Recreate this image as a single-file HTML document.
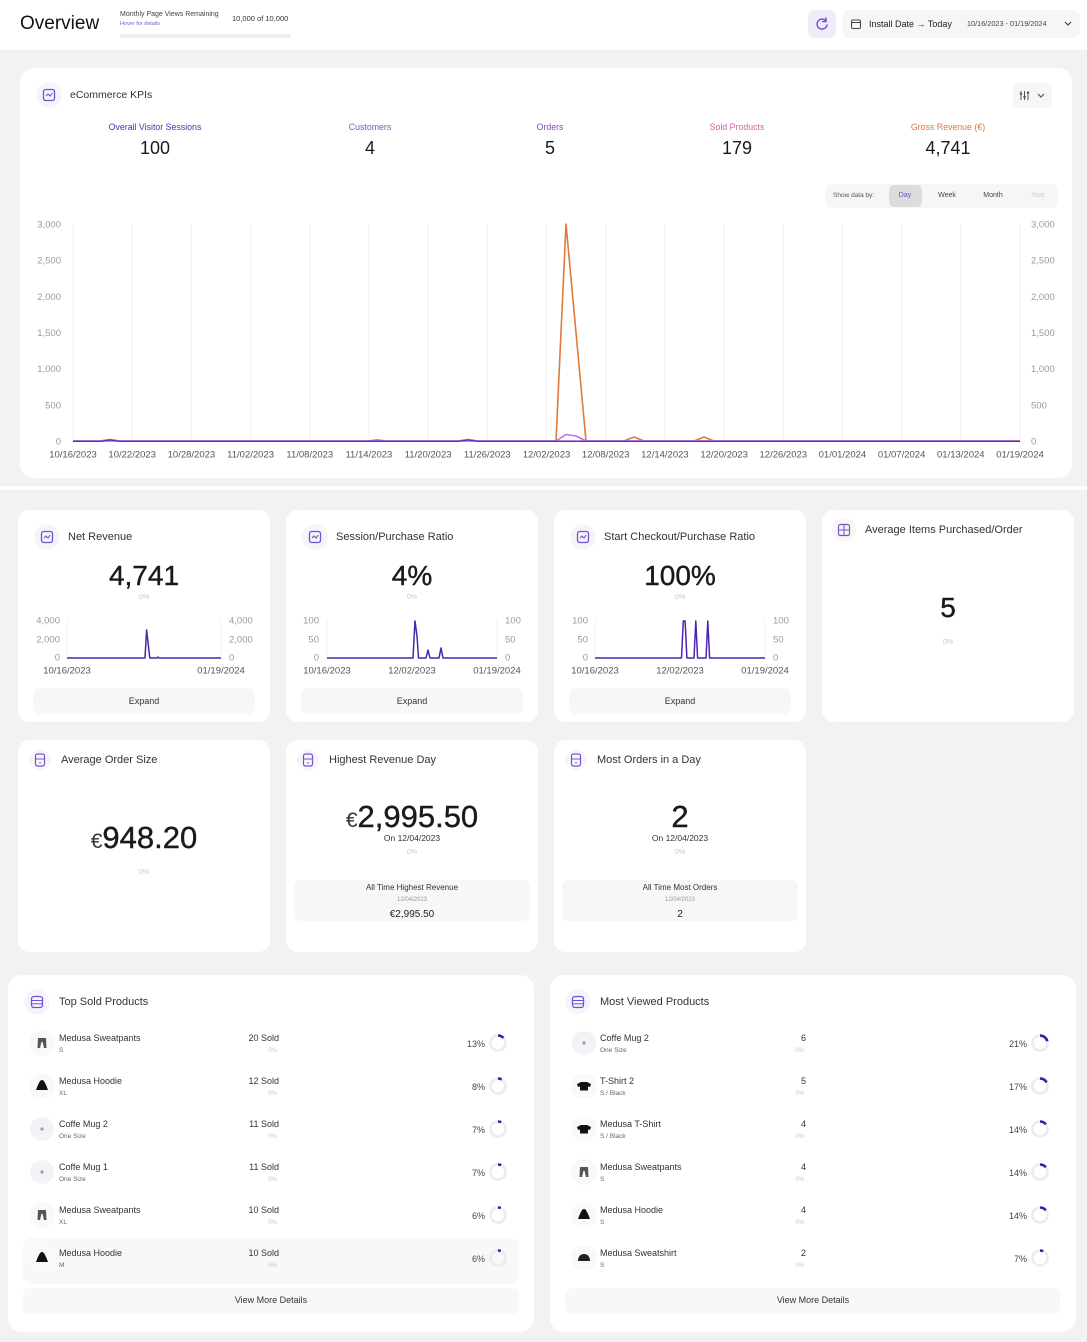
<!DOCTYPE html>
<html>
<head>
<meta charset="utf-8">
<style>
  html,body{margin:0;padding:0;}
  body{width:1087px;height:1342px;position:relative;overflow:hidden;background:#f2f2f2;font-family:"Liberation Sans",Arial,sans-serif;color:#222;}
  .abs{position:absolute;}
  .t{position:absolute;height:20px;line-height:20px;white-space:nowrap;}
  .c{text-align:center;width:240px;}
  .r{text-align:right;width:240px;}
  .card{position:absolute;background:#fff;border-radius:14px;}
  .btn{position:absolute;background:#f7f7f7;border-radius:7px;}
  .big{-webkit-text-stroke:0.4px #1a1a1a;color:#1a1a1a;}
  .muted{color:#c9c9c9;}
</style>
</head>
<body>

<!-- Header -->
<div class="abs" style="left:0;top:0;width:1087px;height:50px;background:#fff;"></div>
<div class="t" style="left:20px;top:14px;font-size:19px;color:#111;">Overview</div>
<div class="t" style="left:120px;top:5px;font-size:7px;color:#444;">Monthly Page Views Remaining</div>
<div class="t" style="left:120px;top:14px;font-size:5.5px;color:#7a5cd0;">Hover for details</div>
<div class="t" style="left:232px;top:9px;font-size:7.5px;color:#333;">10,000 of 10,000</div>
<div class="abs" style="left:120px;top:34px;width:171px;height:4px;background:#ededed;border-radius:2px;"></div>

<div class="abs" style="left:808px;top:10px;width:28px;height:28px;background:#efebfa;border-radius:7px;"></div>
<svg class="abs" style="left:808px;top:10px;" width="28" height="28" viewBox="0 0 28 28"><path d="M18 11 A5 5 0 1 0 19 15" fill="none" stroke="#6b4fd0" stroke-width="1.4" stroke-linecap="round"/><path d="M18 8 L18 11.5 L14.8 11.5" fill="none" stroke="#6b4fd0" stroke-width="1.4" stroke-linecap="round"/></svg>

<div class="abs" style="left:842px;top:10px;width:238px;height:28px;background:#f6f6f6;border-radius:7px;"></div>
<svg class="abs" style="left:850px;top:18px;" width="12" height="12" viewBox="0 0 12 12"><rect x="1.5" y="2" width="9" height="8.5" rx="1.5" fill="none" stroke="#444" stroke-width="1"/><line x1="1.5" y1="4.5" x2="10.5" y2="4.5" stroke="#444" stroke-width="1"/></svg>
<div class="t" style="left:869px;top:14px;font-size:9px;color:#222;">Install Date → Today</div>
<div class="t" style="left:967px;top:14px;font-size:7.3px;color:#444;">10/16/2023 - 01/19/2024</div>
<svg class="abs" style="left:1063px;top:20px;" width="10" height="8" viewBox="0 0 10 8"><path d="M2 2 L5 5 L8 2" fill="none" stroke="#444" stroke-width="1.2"/></svg>

<!-- separator band -->
<div class="abs" style="left:0;top:486px;width:1087px;height:4px;background:#fff;"></div>

<!-- KPI card -->
<div class="card" style="left:20px;top:68px;width:1052px;height:410px;"></div>
<div class="t" style="left:70px;top:85px;font-size:10.5px;color:#333;">eCommerce KPIs</div>
<div class="abs" style="left:1013px;top:83px;width:39px;height:25px;background:#f6f6f6;border-radius:6px;"></div>
<svg class="abs" style="left:1013px;top:83px;" width="39" height="25" viewBox="0 0 39 25"><g stroke="#555" stroke-width="1"><line x1="8" y1="8" x2="8" y2="17"/><line x1="11.5" y1="8" x2="11.5" y2="17"/><line x1="15" y1="8" x2="15" y2="17"/></g><g fill="#555"><rect x="6.8" y="10" width="2.4" height="1.6"/><rect x="10.3" y="13" width="2.4" height="1.6"/><rect x="13.8" y="9" width="2.4" height="1.6"/></g><path d="M25 11 L28 14 L31 11" fill="none" stroke="#555" stroke-width="1.2"/></svg>

<div class="t c" style="left:35px;top:117px;font-size:8.8px;color:#4a34b8;">Overall Visitor Sessions</div>
<div class="t c" style="left:250px;top:117px;font-size:8.8px;color:#5269cf;">Customers</div>
<div class="t c" style="left:430px;top:117px;font-size:8.8px;color:#8a3fd0;">Orders</div>
<div class="t c" style="left:617px;top:117px;font-size:8.8px;color:#d35fa6;">Sold Products</div>
<div class="t c" style="left:828px;top:117px;font-size:8.8px;color:#e0783a;">Gross Revenue (€)</div>

<div class="t c" style="left:35px;top:138px;font-size:18px;color:#1a1a1a;">100</div>
<div class="t c" style="left:250px;top:138px;font-size:18px;color:#1a1a1a;">4</div>
<div class="t c" style="left:430px;top:138px;font-size:18px;color:#1a1a1a;">5</div>
<div class="t c" style="left:617px;top:138px;font-size:18px;color:#1a1a1a;">179</div>
<div class="t c" style="left:828px;top:138px;font-size:18px;color:#1a1a1a;">4,741</div>

<div class="abs" style="left:825px;top:184px;width:233px;height:24px;background:#f6f6f6;border-radius:6px;"></div>
<div class="t" style="left:833px;top:186px;font-size:6.5px;color:#555;">Show data by:</div>
<div class="abs" style="left:889px;top:185px;width:33px;height:22px;background:#dcdcdc;border-radius:5px;"></div>
<div class="t c" style="left:785px;top:186px;font-size:7px;color:#6b4fd0;">Day</div>
<div class="t c" style="left:827px;top:186px;font-size:7px;color:#444;">Week</div>
<div class="t c" style="left:873px;top:186px;font-size:7px;color:#444;">Month</div>
<div class="t c" style="left:918px;top:186px;font-size:7px;color:#d0d0d0;">Year</div>

<!-- Row 1 cards -->
<div class="card" style="left:18px;top:510px;width:252px;height:212px;border-radius:12px;"></div>
<div class="card" style="left:286px;top:510px;width:252px;height:212px;border-radius:12px;"></div>
<div class="card" style="left:554px;top:510px;width:252px;height:212px;border-radius:12px;"></div>
<div class="card" style="left:822px;top:510px;width:252px;height:212px;border-radius:12px;"></div>

<div class="t" style="left:68px;top:527px;font-size:11px;color:#333;">Net Revenue</div>
<div class="t" style="left:336px;top:527px;font-size:11px;color:#333;">Session/Purchase Ratio</div>
<div class="t" style="left:604px;top:527px;font-size:11px;color:#333;">Start Checkout/Purchase Ratio</div>
<div class="t" style="left:865px;top:520px;font-size:11px;color:#333;">Average Items Purchased/Order</div>

<div class="t c big" style="left:24px;top:566px;font-size:28px;height:20px;">4,741</div>
<div class="t c big" style="left:292px;top:566px;font-size:28px;">4%</div>
<div class="t c big" style="left:560px;top:566px;font-size:28px;">100%</div>
<div class="t c big" style="left:828px;top:598px;font-size:28px;">5</div>

<div class="t c muted" style="left:24px;top:588px;font-size:7px;">0%</div>
<div class="t c muted" style="left:292px;top:588px;font-size:7px;">0%</div>
<div class="t c muted" style="left:560px;top:588px;font-size:7px;">0%</div>
<div class="t c muted" style="left:828px;top:633px;font-size:7px;">0%</div>

<div class="btn" style="left:33px;top:688px;width:222px;height:26px;"></div>
<div class="btn" style="left:301px;top:688px;width:222px;height:26px;"></div>
<div class="btn" style="left:569px;top:688px;width:222px;height:26px;"></div>
<div class="t c" style="left:24px;top:691px;font-size:9px;color:#333;">Expand</div>
<div class="t c" style="left:292px;top:691px;font-size:9px;color:#333;">Expand</div>
<div class="t c" style="left:560px;top:691px;font-size:9px;color:#333;">Expand</div>

<!-- Row 2 cards -->
<div class="card" style="left:18px;top:740px;width:252px;height:212px;border-radius:12px;"></div>
<div class="card" style="left:286px;top:740px;width:252px;height:212px;border-radius:12px;"></div>
<div class="card" style="left:554px;top:740px;width:252px;height:212px;border-radius:12px;"></div>

<div class="t" style="left:61px;top:750px;font-size:11px;color:#333;">Average Order Size</div>
<div class="t" style="left:329px;top:750px;font-size:11px;color:#333;">Highest Revenue Day</div>
<div class="t" style="left:597px;top:750px;font-size:11px;color:#333;">Most Orders in a Day</div>

<div class="t c" style="left:24px;top:826px;height:24px;line-height:24px;"><span style="font-size:21px;color:#333;">€</span><span class="big" style="font-size:31px;">948.20</span></div>
<div class="t c muted" style="left:24px;top:863px;font-size:7px;">0%</div>

<div class="t c" style="left:292px;top:805px;height:24px;line-height:24px;"><span style="font-size:21px;color:#333;">€</span><span class="big" style="font-size:31px;">2,995.50</span></div>
<div class="t c" style="left:292px;top:828px;font-size:8.5px;color:#333;">On 12/04/2023</div>
<div class="t c muted" style="left:292px;top:843px;font-size:7px;">0%</div>
<div class="btn" style="left:294px;top:880px;width:236px;height:41px;"></div>
<div class="t c" style="left:292px;top:878px;font-size:8px;color:#333;">All Time Highest Revenue</div>
<div class="t c" style="left:292px;top:890px;font-size:6px;color:#999;">12/04/2023</div>
<div class="t c" style="left:292px;top:905px;font-size:10px;color:#222;">€2,995.50</div>

<div class="t c big" style="left:560px;top:805px;height:24px;line-height:24px;font-size:31px;">2</div>
<div class="t c" style="left:560px;top:828px;font-size:8.5px;color:#333;">On 12/04/2023</div>
<div class="t c muted" style="left:560px;top:843px;font-size:7px;">0%</div>
<div class="btn" style="left:562px;top:880px;width:236px;height:41px;"></div>
<div class="t c" style="left:560px;top:878px;font-size:8px;color:#333;">All Time Most Orders</div>
<div class="t c" style="left:560px;top:890px;font-size:6px;color:#999;">12/04/2023</div>
<div class="t c" style="left:560px;top:905px;font-size:10px;color:#222;">2</div>

<!-- Row 3 list cards -->
<div class="card" style="left:8px;top:975px;width:526px;height:357px;"></div>
<div class="card" style="left:550px;top:975px;width:526px;height:357px;"></div>
<div class="t" style="left:59px;top:992px;font-size:11px;color:#333;">Top Sold Products</div>
<div class="t" style="left:600px;top:992px;font-size:11px;color:#333;">Most Viewed Products</div>

<div class="abs" style="left:23px;top:1238px;width:496px;height:46px;background:#f8f8f8;border-radius:9px;"></div>
<div class="btn" style="left:23px;top:1288px;width:496px;height:26px;background:#f8f8f8;"></div>
<div class="btn" style="left:565px;top:1288px;width:495px;height:26px;background:#f8f8f8;"></div>
<div class="t c" style="left:151px;top:1290px;font-size:9px;color:#333;">View More Details</div>
<div class="t c" style="left:693px;top:1290px;font-size:9px;color:#333;">View More Details</div>

<!-- Left list rows -->
<div class="t" style="left:59px;top:1028px;font-size:9px;color:#333;">Medusa Sweatpants</div>
<div class="t" style="left:59px;top:1041px;font-size:6.5px;color:#666;">S</div>
<div class="t r" style="left:39px;top:1028px;font-size:9px;color:#333;">20 Sold</div>
<div class="t r muted" style="left:37px;top:1041px;font-size:6px;">0%</div>
<div class="t r" style="left:245px;top:1034px;font-size:9px;color:#444;">13%</div>

<div class="t" style="left:59px;top:1071px;font-size:9px;color:#333;">Medusa Hoodie</div>
<div class="t" style="left:59px;top:1084px;font-size:6.5px;color:#666;">XL</div>
<div class="t r" style="left:39px;top:1071px;font-size:9px;color:#333;">12 Sold</div>
<div class="t r muted" style="left:37px;top:1084px;font-size:6px;">0%</div>
<div class="t r" style="left:245px;top:1077px;font-size:9px;color:#444;">8%</div>

<div class="t" style="left:59px;top:1114px;font-size:9px;color:#333;">Coffe Mug 2</div>
<div class="t" style="left:59px;top:1127px;font-size:6.5px;color:#666;">One Size</div>
<div class="t r" style="left:39px;top:1114px;font-size:9px;color:#333;">11 Sold</div>
<div class="t r muted" style="left:37px;top:1127px;font-size:6px;">0%</div>
<div class="t r" style="left:245px;top:1120px;font-size:9px;color:#444;">7%</div>

<div class="t" style="left:59px;top:1157px;font-size:9px;color:#333;">Coffe Mug 1</div>
<div class="t" style="left:59px;top:1170px;font-size:6.5px;color:#666;">One Size</div>
<div class="t r" style="left:39px;top:1157px;font-size:9px;color:#333;">11 Sold</div>
<div class="t r muted" style="left:37px;top:1170px;font-size:6px;">0%</div>
<div class="t r" style="left:245px;top:1163px;font-size:9px;color:#444;">7%</div>

<div class="t" style="left:59px;top:1200px;font-size:9px;color:#333;">Medusa Sweatpants</div>
<div class="t" style="left:59px;top:1213px;font-size:6.5px;color:#666;">XL</div>
<div class="t r" style="left:39px;top:1200px;font-size:9px;color:#333;">10 Sold</div>
<div class="t r muted" style="left:37px;top:1213px;font-size:6px;">0%</div>
<div class="t r" style="left:245px;top:1206px;font-size:9px;color:#444;">6%</div>

<div class="t" style="left:59px;top:1243px;font-size:9px;color:#333;">Medusa Hoodie</div>
<div class="t" style="left:59px;top:1256px;font-size:6.5px;color:#666;">M</div>
<div class="t r" style="left:39px;top:1243px;font-size:9px;color:#333;">10 Sold</div>
<div class="t r muted" style="left:37px;top:1256px;font-size:6px;">0%</div>
<div class="t r" style="left:245px;top:1249px;font-size:9px;color:#444;">6%</div>

<!-- Right list rows -->
<div class="t" style="left:600px;top:1028px;font-size:9px;color:#333;">Coffe Mug 2</div>
<div class="t" style="left:600px;top:1041px;font-size:6.5px;color:#666;">One Size</div>
<div class="t r" style="left:566px;top:1028px;font-size:9px;color:#333;">6</div>
<div class="t r muted" style="left:564px;top:1041px;font-size:6px;">0%</div>
<div class="t r" style="left:787px;top:1034px;font-size:9px;color:#444;">21%</div>

<div class="t" style="left:600px;top:1071px;font-size:9px;color:#333;">T-Shirt 2</div>
<div class="t" style="left:600px;top:1084px;font-size:6.5px;color:#666;">S / Black</div>
<div class="t r" style="left:566px;top:1071px;font-size:9px;color:#333;">5</div>
<div class="t r muted" style="left:564px;top:1084px;font-size:6px;">0%</div>
<div class="t r" style="left:787px;top:1077px;font-size:9px;color:#444;">17%</div>

<div class="t" style="left:600px;top:1114px;font-size:9px;color:#333;">Medusa T-Shirt</div>
<div class="t" style="left:600px;top:1127px;font-size:6.5px;color:#666;">S / Black</div>
<div class="t r" style="left:566px;top:1114px;font-size:9px;color:#333;">4</div>
<div class="t r muted" style="left:564px;top:1127px;font-size:6px;">0%</div>
<div class="t r" style="left:787px;top:1120px;font-size:9px;color:#444;">14%</div>

<div class="t" style="left:600px;top:1157px;font-size:9px;color:#333;">Medusa Sweatpants</div>
<div class="t" style="left:600px;top:1170px;font-size:6.5px;color:#666;">S</div>
<div class="t r" style="left:566px;top:1157px;font-size:9px;color:#333;">4</div>
<div class="t r muted" style="left:564px;top:1170px;font-size:6px;">0%</div>
<div class="t r" style="left:787px;top:1163px;font-size:9px;color:#444;">14%</div>

<div class="t" style="left:600px;top:1200px;font-size:9px;color:#333;">Medusa Hoodie</div>
<div class="t" style="left:600px;top:1213px;font-size:6.5px;color:#666;">S</div>
<div class="t r" style="left:566px;top:1200px;font-size:9px;color:#333;">4</div>
<div class="t r muted" style="left:564px;top:1213px;font-size:6px;">0%</div>
<div class="t r" style="left:787px;top:1206px;font-size:9px;color:#444;">14%</div>

<div class="t" style="left:600px;top:1243px;font-size:9px;color:#333;">Medusa Sweatshirt</div>
<div class="t" style="left:600px;top:1256px;font-size:6.5px;color:#666;">S</div>
<div class="t r" style="left:566px;top:1243px;font-size:9px;color:#333;">2</div>
<div class="t r muted" style="left:564px;top:1256px;font-size:6px;">0%</div>
<div class="t r" style="left:787px;top:1249px;font-size:9px;color:#444;">7%</div>

<!-- SVG overlay: charts & icons -->
<svg class="abs" style="left:0;top:0;" width="1087" height="1342" viewBox="0 0 1087 1342" font-family="Liberation Sans, Arial, sans-serif">
  <defs>
    <g id="icChart">
      <circle cx="0" cy="0" r="13" fill="#f6f4fb"/>
      <rect x="-5.5" y="-5.5" width="11" height="11" rx="2.2" fill="none" stroke="#7352d2" stroke-width="1.3"/>
      <polyline points="-3,1 -1,-1 1,1 3.2,-1.8" fill="none" stroke="#7352d2" stroke-width="1.1"/>
    </g>
    <g id="icGrid">
      <circle cx="0" cy="0" r="12" fill="#faf7f3"/>
      <rect x="-5.5" y="-5.5" width="11" height="11" rx="2" fill="none" stroke="#7352d2" stroke-width="1.2"/>
      <line x1="0" y1="-5.5" x2="0" y2="5.5" stroke="#7352d2" stroke-width="1"/>
      <line x1="-5.5" y1="0" x2="5.5" y2="0" stroke="#7352d2" stroke-width="1"/>
    </g>
    <g id="icPhone">
      <circle cx="0" cy="0" r="11" fill="#f8f6fb"/>
      <rect x="-4.5" y="-6" width="9" height="12" rx="2" fill="none" stroke="#7352d2" stroke-width="1.2"/>
      <line x1="-4.5" y1="-1" x2="4.5" y2="-1" stroke="#7352d2" stroke-width="1"/>
      <circle cx="0" cy="2.8" r="0.8" fill="#7352d2"/>
    </g>
    <g id="icDb">
      <circle cx="0" cy="0" r="12.5" fill="#f6f4fb"/>
      <rect x="-5.5" y="-5.5" width="11" height="11" rx="2.5" fill="none" stroke="#7352d2" stroke-width="1.3"/>
      <line x1="-5.5" y1="-1.5" x2="5.5" y2="-1.5" stroke="#7352d2" stroke-width="1"/>
      <line x1="-5.5" y1="1.8" x2="5.5" y2="1.8" stroke="#7352d2" stroke-width="1"/>
    </g>
    <g id="pPants">
      <circle r="13" fill="#f9f9f9"/>
      <path d="M-4,-5 L4,-5 L4.5,5 L2,5 L0.6,-1 L-0.6,-1 L-2,5 L-4.5,5 Z" fill="#555"/>
    </g>
    <g id="pHoodie">
      <circle r="13" fill="#f9f9f9"/>
      <path d="M0,-6 C2,-6 3,-3 4.5,0 L6,4 L-6,4 L-4.5,0 C-3,-3 -2,-6 0,-6 Z" fill="#111"/>
    </g>
    <g id="pMug">
      <circle r="12" fill="#f3f3f7"/>
      <circle r="1.6" fill="#9a9aa8"/>
    </g>
    <g id="pShirt">
      <circle r="13" fill="#f9f9f9"/>
      <path d="M-3,-4 L3,-4 L7,-2 L6,1 L4,0.5 L4,4.5 L-4,4.5 L-4,0.5 L-6,1 L-7,-2 Z" fill="#111"/>
    </g>
    <g id="pSweat">
      <circle r="13" fill="#f9f9f9"/>
      <path d="M-6,3 C-6,-2 -3,-4 0,-4 C3,-4 6,-2 6,3 Z" fill="#222"/>
    </g>
  </defs>

  <!-- card icons -->
  <use href="#icChart" x="49" y="95"/>
  <use href="#icChart" x="47" y="537"/>
  <use href="#icChart" x="315" y="537"/>
  <use href="#icChart" x="583" y="537"/>
  <use href="#icGrid" x="844" y="530"/>
  <use href="#icPhone" x="40" y="760"/>
  <use href="#icPhone" x="308" y="760"/>
  <use href="#icPhone" x="576" y="760"/>
  <use href="#icDb" x="37" y="1002"/>
  <use href="#icDb" x="578" y="1002"/>

  <!-- main chart gridlines -->
  <g stroke="#f0f0f0" stroke-width="1">
    <line x1="73" y1="224" x2="73" y2="441"/><line x1="132.2" y1="224" x2="132.2" y2="441"/><line x1="191.4" y1="224" x2="191.4" y2="441"/><line x1="250.6" y1="224" x2="250.6" y2="441"/><line x1="309.8" y1="224" x2="309.8" y2="441"/><line x1="368.9" y1="224" x2="368.9" y2="441"/><line x1="428.1" y1="224" x2="428.1" y2="441"/><line x1="487.3" y1="224" x2="487.3" y2="441"/><line x1="546.5" y1="224" x2="546.5" y2="441"/><line x1="605.7" y1="224" x2="605.7" y2="441"/><line x1="664.9" y1="224" x2="664.9" y2="441"/><line x1="724.1" y1="224" x2="724.1" y2="441"/><line x1="783.3" y1="224" x2="783.3" y2="441"/><line x1="842.4" y1="224" x2="842.4" y2="441"/><line x1="901.6" y1="224" x2="901.6" y2="441"/><line x1="960.8" y1="224" x2="960.8" y2="441"/><line x1="1020" y1="224" x2="1020" y2="441"/>
  </g>
  <g font-size="9.5" fill="#9a9a9a" text-anchor="end">
    <text x="61" y="227.5">3,000</text><text x="61" y="263.7">2,500</text><text x="61" y="299.8">2,000</text><text x="61" y="336">1,500</text><text x="61" y="372.2">1,000</text><text x="61" y="408.3">500</text><text x="61" y="444.5">0</text>
  </g>
  <g font-size="9.5" fill="#9a9a9a" text-anchor="start">
    <text x="1031" y="227.5">3,000</text><text x="1031" y="263.7">2,500</text><text x="1031" y="299.8">2,000</text><text x="1031" y="336">1,500</text><text x="1031" y="372.2">1,000</text><text x="1031" y="408.3">500</text><text x="1031" y="444.5">0</text>
  </g>
  <g font-size="9.5" fill="#555" text-anchor="middle">
    <text x="73" y="457.5">10/16/2023</text><text x="132.2" y="457.5">10/22/2023</text><text x="191.4" y="457.5">10/28/2023</text><text x="250.6" y="457.5">11/02/2023</text><text x="309.8" y="457.5">11/08/2023</text><text x="368.9" y="457.5">11/14/2023</text><text x="428.1" y="457.5">11/20/2023</text><text x="487.3" y="457.5">11/26/2023</text><text x="546.5" y="457.5">12/02/2023</text><text x="605.7" y="457.5">12/08/2023</text><text x="664.9" y="457.5">12/14/2023</text><text x="724.1" y="457.5">12/20/2023</text><text x="783.3" y="457.5">12/26/2023</text><text x="842.4" y="457.5">01/01/2024</text><text x="901.6" y="457.5">01/07/2024</text><text x="960.8" y="457.5">01/13/2024</text><text x="1020" y="457.5">01/19/2024</text>
  </g>
  <!-- series -->
  <polyline points="73,441 556,441 566,224 576,332.5 586,441 624,441 634,437 644,441 694,441 704,437 714,441 1020,441" fill="none" stroke="#e07a3a" stroke-width="1.6" stroke-linejoin="round"/>
  <polyline points="73,441 556,441 566,434.5 576,436 586,441 1020,441" fill="none" stroke="#d46ad8" stroke-width="1.6" stroke-linejoin="round"/>
  <polyline points="73,441 100,441 110,439.5 120,441 367,441 377,440 387,441 458,441 468,439.5 478,441 1020,441" fill="none" stroke="#8a62d8" stroke-width="1.6"/>
  <polyline points="73,441.5 100,441.5 110,440 120,441.5 458,441.5 468,440 478,441.5 1020,441.5" fill="none" stroke="#3b1d9e" stroke-width="0.8"/>

  <!-- mini chart 1 -->
  <g stroke="#f0f0f0"><line x1="67" y1="620" x2="67" y2="658"/><line x1="221" y1="620" x2="221" y2="658"/></g>
  <g font-size="9.5" fill="#999" text-anchor="end"><text x="60" y="623.5">4,000</text><text x="60" y="642.5">2,000</text><text x="60" y="660.5">0</text></g>
  <g font-size="9.5" fill="#999"><text x="229" y="623.5">4,000</text><text x="229" y="642.5">2,000</text><text x="229" y="660.5">0</text></g>
  <g font-size="9.5" fill="#555" text-anchor="middle"><text x="67" y="673.5">10/16/2023</text><text x="221" y="673.5">01/19/2024</text></g>
  <polyline points="67,658 145,658 146.6,630 148.2,644 149.8,658 157,658 158,657 159,658 221,658" fill="none" stroke="#4a25b0" stroke-width="1.5" stroke-linejoin="round"/>

  <!-- mini chart 2 -->
  <g stroke="#f0f0f0"><line x1="327" y1="620" x2="327" y2="658"/><line x1="497" y1="620" x2="497" y2="658"/></g>
  <g font-size="9.5" fill="#999" text-anchor="end"><text x="319" y="623.5">100</text><text x="319" y="642.5">50</text><text x="319" y="660.5">0</text></g>
  <g font-size="9.5" fill="#999"><text x="505" y="623.5">100</text><text x="505" y="642.5">50</text><text x="505" y="660.5">0</text></g>
  <g font-size="9.5" fill="#555" text-anchor="middle"><text x="327" y="673.5">10/16/2023</text><text x="412" y="673.5">12/02/2023</text><text x="497" y="673.5">01/19/2024</text></g>
  <polyline points="327,658 413,658 415,621 417,636 418.5,658 426,658 428,650 430,658 439,658 441,648 443,658 497,658" fill="none" stroke="#4a25b0" stroke-width="1.5" stroke-linejoin="round"/>

  <!-- mini chart 3 -->
  <g stroke="#f0f0f0"><line x1="595" y1="620" x2="595" y2="658"/><line x1="765" y1="620" x2="765" y2="658"/></g>
  <g font-size="9.5" fill="#999" text-anchor="end"><text x="588" y="623.5">100</text><text x="588" y="642.5">50</text><text x="588" y="660.5">0</text></g>
  <g font-size="9.5" fill="#999"><text x="773" y="623.5">100</text><text x="773" y="642.5">50</text><text x="773" y="660.5">0</text></g>
  <g font-size="9.5" fill="#555" text-anchor="middle"><text x="595" y="673.5">10/16/2023</text><text x="680" y="673.5">12/02/2023</text><text x="765" y="673.5">01/19/2024</text></g>
  <polyline points="595,658 681.5,658 683.3,621 685.1,621 686.9,658 694,658 695.8,621 697.6,658 706,658 707.8,621 709.6,658 765,658" fill="none" stroke="#4a25b0" stroke-width="1.5" stroke-linejoin="round"/>

  <!-- product icons -->
  <use href="#pPants" x="42" y="1043"/>
  <use href="#pHoodie" x="42" y="1086"/>
  <use href="#pMug" x="42" y="1129"/>
  <use href="#pMug" x="42" y="1172"/>
  <use href="#pPants" x="42" y="1215"/>
  <use href="#pHoodie" x="42" y="1258"/>
  <use href="#pMug" x="584" y="1043"/>
  <use href="#pShirt" x="584" y="1086"/>
  <use href="#pShirt" x="584" y="1129"/>
  <use href="#pPants" x="584" y="1172"/>
  <use href="#pHoodie" x="584" y="1215"/>
  <use href="#pSweat" x="584" y="1258"/>

  <!-- donuts (circumference 47.1) -->
  <g fill="none" stroke-width="2.6">
    <circle cx="498" cy="1043" r="7.5" stroke="#ececec"/><circle cx="498" cy="1043" r="7.5" stroke="#3a1aa0" stroke-dasharray="6.1 47.1" transform="rotate(-90 498 1043)"/>
    <circle cx="498" cy="1086" r="7.5" stroke="#ececec"/><circle cx="498" cy="1086" r="7.5" stroke="#3a1aa0" stroke-dasharray="3.8 47.1" transform="rotate(-90 498 1086)"/>
    <circle cx="498" cy="1129" r="7.5" stroke="#ececec"/><circle cx="498" cy="1129" r="7.5" stroke="#3a1aa0" stroke-dasharray="3.3 47.1" transform="rotate(-90 498 1129)"/>
    <circle cx="498" cy="1172" r="7.5" stroke="#ececec"/><circle cx="498" cy="1172" r="7.5" stroke="#3a1aa0" stroke-dasharray="3.3 47.1" transform="rotate(-90 498 1172)"/>
    <circle cx="498" cy="1215" r="7.5" stroke="#ececec"/><circle cx="498" cy="1215" r="7.5" stroke="#3a1aa0" stroke-dasharray="2.8 47.1" transform="rotate(-90 498 1215)"/>
    <circle cx="498" cy="1258" r="7.5" stroke="#ececec"/><circle cx="498" cy="1258" r="7.5" stroke="#3a1aa0" stroke-dasharray="2.8 47.1" transform="rotate(-90 498 1258)"/>

    <circle cx="1040" cy="1043" r="7.5" stroke="#ececec"/><circle cx="1040" cy="1043" r="7.5" stroke="#3a1aa0" stroke-dasharray="9.9 47.1" transform="rotate(-90 1040 1043)"/>
    <circle cx="1040" cy="1086" r="7.5" stroke="#ececec"/><circle cx="1040" cy="1086" r="7.5" stroke="#3a1aa0" stroke-dasharray="8 47.1" transform="rotate(-90 1040 1086)"/>
    <circle cx="1040" cy="1129" r="7.5" stroke="#ececec"/><circle cx="1040" cy="1129" r="7.5" stroke="#3a1aa0" stroke-dasharray="6.6 47.1" transform="rotate(-90 1040 1129)"/>
    <circle cx="1040" cy="1172" r="7.5" stroke="#ececec"/><circle cx="1040" cy="1172" r="7.5" stroke="#3a1aa0" stroke-dasharray="6.6 47.1" transform="rotate(-90 1040 1172)"/>
    <circle cx="1040" cy="1215" r="7.5" stroke="#ececec"/><circle cx="1040" cy="1215" r="7.5" stroke="#3a1aa0" stroke-dasharray="6.6 47.1" transform="rotate(-90 1040 1215)"/>
    <circle cx="1040" cy="1258" r="7.5" stroke="#ececec"/><circle cx="1040" cy="1258" r="7.5" stroke="#3a1aa0" stroke-dasharray="3.3 47.1" transform="rotate(-90 1040 1258)"/>
  </g>
</svg>

</body>
</html>
